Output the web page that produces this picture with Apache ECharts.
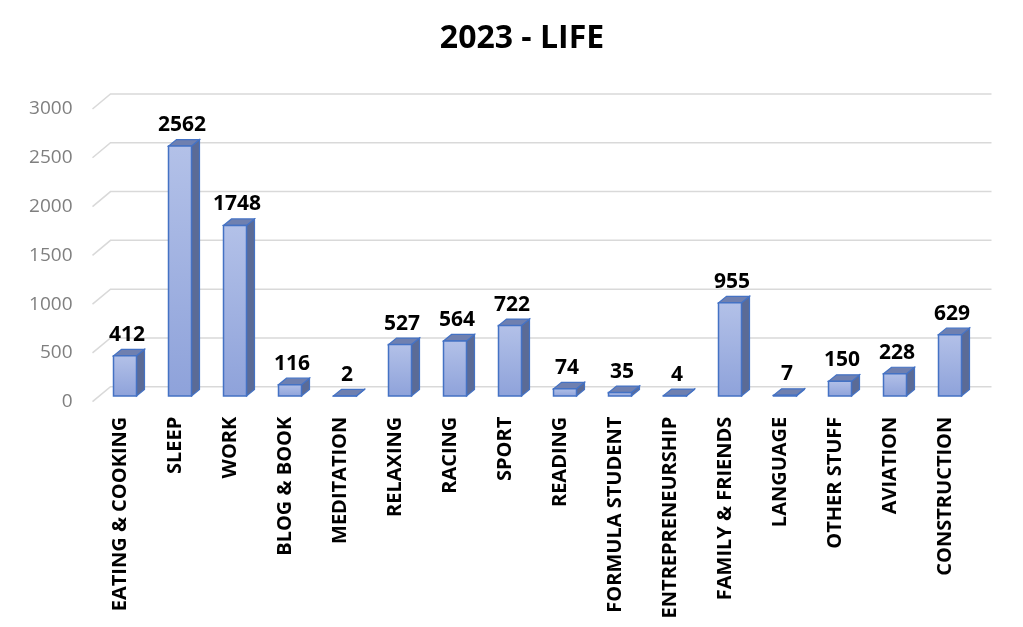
<!DOCTYPE html>
<html>
<head>
<meta charset="utf-8">
<script src="https://cdn.jsdelivr.net/npm/echarts@6/dist/echarts.min.js"></script>
<style>html,body{margin:0;padding:0;background:#fff}#c{width:1023px;height:627px}</style>
</head>
<body>
<div id="c"></div>
<script>
const categories = ["EATING & COOKING","SLEEP","WORK","BLOG & BOOK","MEDITATION","RELAXING","RACING","SPORT","READING","FORMULA STUDENT","ENTREPRENEURSHIP","FAMILY & FRIENDS","LANGUAGE","OTHER STUFF","AVIATION","CONSTRUCTION"];
const values = [412,2562,1748,116,2,527,564,722,74,35,4,955,7,150,228,629];
const yTicks = [0,500,1000,1500,2000,2500,3000];
const titleText = "2023 - LIFE";

const FONT = "'Open Sans', sans-serif";
const chart = echarts.init(document.getElementById('c'));

function renderGrid(params, api) {
  const v = api.value(0);
  const p = api.coord([0, v]);
  const x0 = params.coordSys.x;
  const y = p[1];
  const xr = params.coordSys.x + params.coordSys.width + 19;
  return {
    type: 'polyline',
    shape: { points: [[x0, y], [x0 + 18, y - 15], [xr, y - 15]] },
    style: { stroke: '#d9d9d9', lineWidth: 1.5, fill: null }
  };
}

function renderBar(params, api) {
  const i = api.value(0), v = api.value(1);
  const base = api.coord([i, 0]);
  const top = api.coord([i, v]);
  const bw = 23, dx = 8, dy = 6.5;
  const cx = base[0] + 5;
  const y0 = base[1] - 5.7;
  const y1 = top[1] - 5.7;
  const l = cx - bw / 2, r = cx + bw / 2;
  const edge = '#4472c4';
  return {
    type: 'group',
    children: [
      { type: 'polygon', shape: { points: [[r, y1], [r + dx, y1 - dy], [r + dx, y0 - dy], [r, y0]] },
        style: { fill: '#5b6b96', stroke: edge, lineWidth: 1.2 } },
      { type: 'polygon', shape: { points: [[l, y1], [r, y1], [r + dx, y1 - dy], [l + dx, y1 - dy]] },
        style: { fill: '#6f80b0', stroke: edge, lineWidth: 1.2 } },
      { type: 'rect', shape: { x: l, y: y1, width: bw, height: Math.max(0, y0 - y1) },
        style: { fill: new echarts.graphic.LinearGradient(0, 0, 0, 1, [
          { offset: 0, color: '#b3c1e8' }, { offset: 1, color: '#8ea2da' }]),
          stroke: edge, lineWidth: 1.5 } },
      { type: 'text', style: { x: cx + 2, y: y1 - dy - 4, text: String(v), textAlign: 'center', textVerticalAlign: 'bottom',
          fill: '#000', font: "bold 21px " + FONT } }
    ]
  };
}

chart.setOption({
  animation: false,
  backgroundColor: '#fff',
  title: {
    text: titleText, left: 517, top: 18, textAlign: 'center',
    textStyle: { fontFamily: FONT, fontWeight: 'bold', fontSize: 32, color: '#000' }
  },
  grid: { left: 92.5, right: 50.5, top: 109, bottom: 225.3, containLabel: false },
  xAxis: {
    type: 'category', data: categories,
    axisLine: { show: false }, axisTick: { show: false },
    axisLabel: { interval: 0, rotate: 90, margin: 15, color: '#000', fontFamily: FONT, fontWeight: 'bold', fontSize: 20 }
  },
  yAxis: {
    type: 'value', min: 0, max: 3000, interval: 500,
    axisLine: { show: false }, axisTick: { show: false }, splitLine: { show: false },
    axisLabel: { margin: 20, color: '#7f7f7f', fontFamily: FONT, fontSize: 19, formatter: v => String(v) }
  },
  series: [
    { type: 'custom', renderItem: renderGrid, data: yTicks.map(t => [t]), encode: { y: 0 }, z: 1, silent: true },
    { type: 'custom', renderItem: renderBar, data: values.map((v, i) => [i, v]), encode: { x: 0, y: 1 }, z: 2 }
  ]
});
</script>
</body>
</html>
